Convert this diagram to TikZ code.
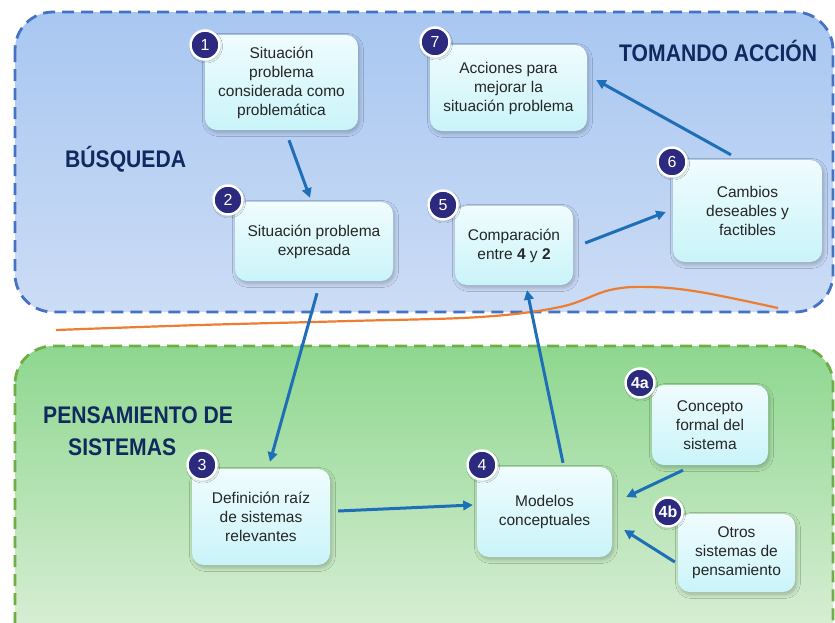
\documentclass[tikz,border=0pt]{standalone}
\usepackage{fontspec}
\setmainfont{Liberation Sans}
\newfontfamily\headfont[FakeStretch=0.88]{Liberation Sans Bold}
\usetikzlibrary{calc,arrows.meta,shadows.blur}
\definecolor{blueTop}{HTML}{A8C7F1}
\definecolor{blueBot}{HTML}{CCDCF5}
\definecolor{blueEdge}{HTML}{4472C4}
\definecolor{greenTop}{HTML}{8ED78F}
\definecolor{greenBot}{HTML}{E2F1DE}
\definecolor{greenEdge}{HTML}{6FAE45}
\definecolor{orangeLine}{HTML}{ED7D31}
\definecolor{boxTop}{HTML}{F0FCFE}
\definecolor{boxBot}{HTML}{C9F4F9}
\definecolor{badgeCol}{HTML}{2B2A7E}
\definecolor{headCol}{HTML}{10295E}
\definecolor{arrowBlue}{HTML}{1E6EB8}
\begin{document}
\begin{tikzpicture}[x=1pt,y=-1pt,
  box/.style={rounded corners=12pt, top color=boxTop, bottom color=boxBot, draw=none,
    blur shadow={shadow xshift=1.5pt, shadow yshift=-2.5pt, shadow blur radius=4pt, shadow blur steps=8, shadow opacity=25},
    align=center, font=\fontsize{15.5}{19}\selectfont, text=black!85, inner sep=0pt},
  badge/.style={circle, fill=badgeCol, draw=white, line width=2.5pt, minimum size=29pt, inner sep=0pt,
    text=white, font=\fontsize{16}{16}\selectfont,
    blur shadow={shadow xshift=1pt, shadow yshift=-1.5pt, shadow blur radius=2pt, shadow opacity=30}},
  heading/.style={anchor=base west, inner sep=0pt, text=headCol, font=\headfont\fontsize{24}{24}\selectfont},
  arr/.style={draw=arrowBlue, line width=3pt, -{Triangle[length=9.5pt,width=9.5pt]}},
  region/.style={dash pattern=on 12pt off 7pt, line width=2.8pt, rounded corners=38pt}
]
\useasboundingbox (0,0) rectangle (835,622);
\fill[white] (0,0) rectangle (835,622);

% regions
\path[region, top color=blueTop, bottom color=blueBot, draw=blueEdge] (15,12) rectangle (833,312);
\path[region, top color=greenTop, bottom color=greenBot, draw=greenEdge] (15,346) rectangle (833,670);

% orange separator
\draw[orangeLine, line width=2.2pt] plot[smooth, tension=0.6] coordinates
  {(56,330) (200,325) (350,321) (480,317) (560,307) (610,290) (650,287) (700,292) (778,308)};

% headings
\node[heading] (hTom) at (619,61) {TOMANDO ACCIÓN};
\node[heading] (hBus) at (65,167) {BÚSQUEDA};
\node[heading] (hPen) at (43,423) {PENSAMIENTO DE};
\node[heading] (hSis) at (68,455) {SISTEMAS};

% boxes
\node[box, minimum width=153pt, minimum height=95pt] (n1) at (281.5,82.5) {Situación\\problema\\considerada como\\problemática};
\node[box, minimum width=157pt, minimum height=86pt] (n7) at (508.5,88) {Acciones para\\mejorar la\\situación problema};
\node[box, minimum width=158pt, minimum height=79pt] (n2) at (314,241.5) {Situación problema\\expresada};
\node[box, minimum width=118pt, minimum height=79pt] (n5) at (514,245.5) {Comparación\\entre \textbf{4} y \textbf{2}};
\node[box, minimum width=149pt, minimum height=102pt] (n6) at (747.5,211) {Cambios\\deseables y\\factibles};
\node[box, minimum width=138pt, minimum height=96pt] (n3) at (261,517) {Definición raíz\\de sistemas\\relevantes};
\node[box, minimum width=135pt, minimum height=90pt] (n4) at (544.5,512) {Modelos\\conceptuales};
\node[box, minimum width=116pt, minimum height=80pt] (n4a) at (710,425) {Concepto\\formal del\\sistema};
\node[box, minimum width=117pt, minimum height=78pt] (n4b) at (736.5,553) {Otros\\sistemas de\\pensamiento};

% badges
\node[badge] (b1) at (205,45) {1};
\node[badge] (b7) at (435,42) {7};
\node[badge] (b2) at (228,200) {2};
\node[badge] (b5) at (443,205) {5};
\node[badge] (b6) at (672,162) {6};
\node[badge] (b3) at (202,465) {3};
\node[badge] (b4) at (482,465) {4};
\node[badge] (b4a) at (640,383) {\textbf{4a}};
\node[badge] (b4b) at (668,512) {\textbf{4b}};

% connectors
\draw[arr] ($(n1.south)+(7.5,10)$) -- ($(n2.north)+(-4,-4)$);
\draw[arr] ($(n2.south)+(3,12)$) -- ($(n3.north)+(9,-7)$);
\draw[arr] ($(n3.east)+(8,-6)$) -- ($(n4.west)+(-4,-7)$);
\draw[arr] ($(n4.north)+(18.5,-4)$) -- ($(n5.south)+(13,5)$);
\draw[arr] ($(n5.east)+(12,-2.5)$) -- ($(n6.west)+(-7,1)$);
\draw[arr] ($(n6.north)+(-16.5,-5)$) -- ($(n7.east)+(9,-8)$);
\draw[arr] ($(n4a.south)+(-27,5)$) -- ($(n4.east)+(14,-15)$);
\draw[arr] ($(n4b.west)+(-3,9)$) -- ($(n4.east)+(12,18)$);
\end{tikzpicture}
\end{document}
